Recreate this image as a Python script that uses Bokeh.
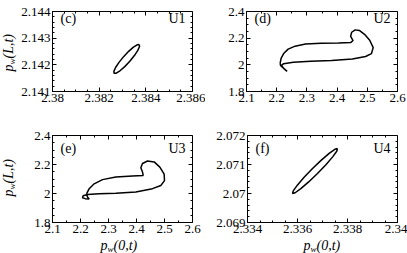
import math
from bokeh.plotting import figure
from bokeh.models import FixedTicker, LinearAxis, Label, Range1d
from bokeh.layouts import column, row
from bokeh.embed import file_html
from bokeh.resources import INLINE

FONT = "Times"

# ---------------- data ----------------
# panel (c) U1 : closed orbit
c_x = [2.383720, 2.383730, 2.383656, 2.383510, 2.383313, 2.383096, 2.382892, 2.382732,
       2.382640, 2.382630, 2.382704, 2.382850, 2.383047, 2.383264, 2.383468, 2.383628, 2.383720]
c_y = [2.142760, 2.142686, 2.142541, 2.142347, 2.142133, 2.141933, 2.141777, 2.141688,
       2.141680, 2.141754, 2.141900, 2.142093, 2.142307, 2.142507, 2.142664, 2.142752, 2.142760]

# panel (d) U2
d_x = [2.2115, 2.2149, 2.2230, 2.2379, 2.2609, 2.2954, 2.3471, 2.4046, 2.4448, 2.4529,
       2.4448, 2.4483, 2.4598, 2.4736, 2.4908, 2.5080, 2.5195, 2.5138, 2.4943, 2.4506,
       2.3816, 2.3126, 2.2552, 2.2230, 2.2161, 2.2230, 2.2345, 2.2207, 2.2126, 2.2115]
d_y = [2.0133, 2.0511, 2.0844, 2.1178, 2.1400, 2.1556, 2.1622, 2.1644, 2.1667, 2.1822,
       2.2133, 2.2444, 2.2622, 2.2578, 2.2289, 2.1844, 2.1289, 2.0844, 2.0622, 2.0444,
       2.0333, 2.0267, 2.0200, 2.0089, 1.9956, 1.9733, 1.9511, 1.9778, 1.9956, 2.0133]

# panel (e) U3
e_x = [2.2214, 2.2310, 2.2488, 2.2786, 2.3262, 2.3857, 2.4238, 2.4214, 2.4155, 2.4214,
       2.4393, 2.4631, 2.4833, 2.4988, 2.5000, 2.4869, 2.4571, 2.3976, 2.3262, 2.2667,
       2.2250, 2.2095, 2.2071, 2.2167, 2.2310, 2.2250, 2.2214]
e_y = [1.9978, 2.0333, 2.0667, 2.0956, 2.1133, 2.1200, 2.1244, 2.1489, 2.1778, 2.2067,
       2.2244, 2.2178, 2.1822, 2.1333, 2.0889, 2.0556, 2.0333, 2.0111, 2.0022, 1.9978,
       1.9933, 1.9844, 1.9711, 1.9644, 1.9622, 1.9756, 1.9978]

# panel (f) U4
f_x = [2.337600, 2.337570, 2.337406, 2.337136, 2.336799, 2.336446, 2.336134, 2.335906,
       2.335800, 2.335830, 2.335994, 2.336264, 2.336601, 2.336954, 2.337266, 2.337494, 2.337600]
f_y = [2.071550, 2.071458, 2.071263, 2.070993, 2.070690, 2.070399, 2.070167, 2.070026,
       2.070000, 2.070092, 2.070287, 2.070557, 2.070860, 2.071151, 2.071383, 2.071524, 2.071550]

# ticks
c_xticks = [2.380, 2.382, 2.384, 2.386]
c_xlabels = ["2.38", "2.382", "2.384", "2.386"]
c_yticks = [2.141, 2.142, 2.143, 2.144]
c_ylabels = ["2.141", "2.142", "2.143", "2.144"]
de_xticks = [2.1, 2.2, 2.3, 2.4, 2.5, 2.6]
de_xlabels = ["2.1", "2.2", "2.3", "2.4", "2.5", "2.6"]
de_yticks = [1.8, 2.0, 2.2, 2.4]
de_ylabels = ["1.8", "2", "2.2", "2.4"]
f_xticks = [2.334, 2.336, 2.338, 2.340]
f_xlabels = ["2.334", "2.336", "2.338", "2.34"]
f_yticks = [2.069, 2.070, 2.071, 2.072]
f_ylabels = ["2.069", "2.07", "2.071", "2.072"]

tags = ["(c)", "(d)", "(e)", "(f)"]
names = ["U1", "U2", "U3", "U4"]
ylab_rest = "(L,t)"
xlab_rest = "(0,t)"


def minors(ticks, n):
    step = ticks[1] - ticks[0]
    out = []
    for t in ticks[:-1]:
        for k in range(1, n):
            out.append(t + k * step / n)
    return out


def add_axis(p, loc, ticks, labels, nminor, fixed=None):
    ax = LinearAxis(ticker=FixedTicker(ticks=ticks, minor_ticks=minors(ticks, nminor)))
    ax.major_tick_in = 4
    ax.major_tick_out = 0
    ax.minor_tick_in = 2
    ax.minor_tick_out = 0
    ax.axis_line_color = "black"
    ax.major_tick_line_color = "black"
    ax.minor_tick_line_color = "black"
    if labels is None:
        ax.major_label_text_color = None
        ax.major_label_text_font_size = "0px"
        ax.major_label_standoff = 0
        ax.axis_label_standoff = 0
        ax.fixed_location = fixed
    else:
        ax.major_label_overrides = {t: l for t, l in zip(ticks, labels)}
        ax.major_label_text_font = FONT
        ax.major_label_text_font_size = "13px"
        ax.major_label_text_color = "black"
        ax.major_label_standoff = 2
    p.add_layout(ax, loc)


def lab(p, x, y, text, size, angle=0.0, italic=True, align="left", baseline="alphabetic"):
    p.add_layout(Label(x=x, y=y, x_units="screen", y_units="screen", text=text, angle=angle,
                       text_font=FONT, text_font_style="italic" if italic else "normal",
                       text_font_size=f"{size}px", text_baseline=baseline, text_align=align,
                       text_color="black"))


def sub_label(p, x, y, rest, vertical=False):
    """Italic label p_w(...) in screen units."""
    if not vertical:
        lab(p, x, y, "p", 14)
        lab(p, x + 7, y - 3, "w", 9)
        lab(p, x + 13, y, rest, 14)
    else:
        lab(p, x, y, "p", 14, angle=math.pi / 2)
        lab(p, x + 3, y + 7, "w", 9, angle=math.pi / 2)
        lab(p, x, y + 13, rest, 14, angle=math.pi / 2)


def panel(xs, ys, xr, yr, xt, xl, yt, yl, nx, ny, w, h, bl, br, bt, bb, tag, name):
    p = figure(width=w, height=h, x_range=Range1d(*xr), y_range=Range1d(*yr),
               x_axis_type=None, y_axis_type=None, output_backend="svg",
               toolbar_location=None, min_border_left=bl, min_border_right=br,
               min_border_top=bt, min_border_bottom=bb)
    p.outline_line_color = "black"
    p.outline_line_width = 1
    p.outline_line_alpha = 1
    p.background_fill_color = "white"
    p.border_fill_color = "white"
    add_axis(p, "below", xt, xl, nx)
    add_axis(p, "above", xt, None, nx, fixed=yr[1])
    add_axis(p, "left", yt, yl, ny)
    add_axis(p, "right", yt, None, ny, fixed=xr[1])
    p.line(xs, ys, line_color="black", line_width=1.5)
    fw = w - bl - br
    fh = h - bt - bb
    lab(p, 8, fh - 5, tag, 14, italic=False, baseline="top")
    lab(p, fw - 7, fh - 5, name, 14, italic=False, align="right", baseline="top")
    return p


pc = panel(c_x, c_y, (2.380, 2.386), (2.141, 2.144), c_xticks, c_xlabels, c_yticks, c_ylabels, 4, 5,
           205, 118, 52, 13, 5, 27, tags[0], names[0])
pd_ = panel(d_x, d_y, (2.1, 2.6), (1.8, 2.4), de_xticks, de_xlabels, de_yticks, de_ylabels, 2, 4,
            202, 118, 41, 10, 11, 21, tags[1], names[1])
pe = panel(e_x, e_y, (2.1, 2.6), (1.8, 2.4), de_xticks, de_xlabels, de_yticks, de_ylabels, 2, 4,
           205, 135, 52, 13, 17, 31, tags[2], names[2])
pf = panel(f_x, f_y, (2.334, 2.340), (2.069, 2.072), f_xticks, f_xlabels, f_yticks, f_ylabels, 4, 5,
           202, 135, 42, 10, 17, 31, tags[3], names[3])

# transparent overlay carrying the axis titles
ov = figure(width=407, height=253, x_range=Range1d(0, 1), y_range=Range1d(0, 1),
            x_axis_type=None, y_axis_type=None, output_backend="svg", toolbar_location=None,
            min_border_left=0, min_border_right=0, min_border_top=0, min_border_bottom=0)
ov.outline_line_color = None
ov.background_fill_alpha = 0
ov.border_fill_alpha = 0
ov.margin = (-253, 0, 0, 0)
sub_label(ov, 8, 182, ylab_rest, vertical=True)
sub_label(ov, 8, 57, ylab_rest, vertical=True)
sub_label(ov, 100, 8, xlab_rest)
sub_label(ov, 303, 8, xlab_rest)

layout = column(row(pc, pd_, spacing=0), row(pe, pf, spacing=0), ov, spacing=0)

open("out.html", "w").write(file_html(layout, INLINE))
